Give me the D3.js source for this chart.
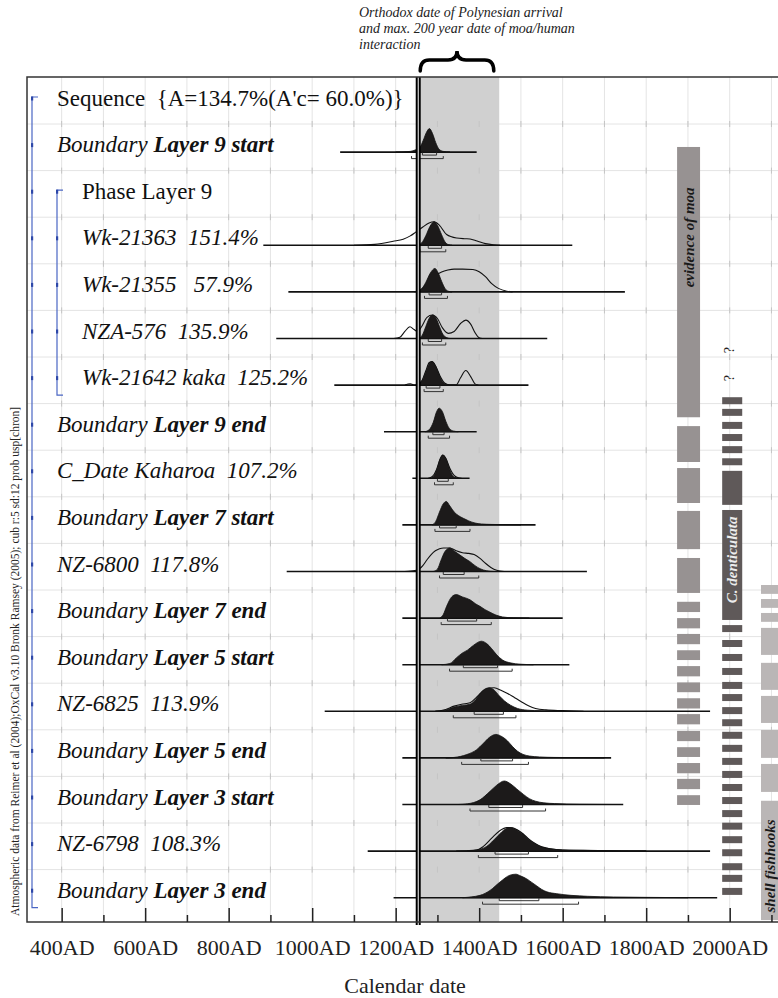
<!DOCTYPE html>
<html>
<head>
<meta charset="utf-8">
<script src="https://cdn.jsdelivr.net/npm/d3@7"></script>
<style>
  body { margin: 0; background: #fff; }
  svg { display: block; font-family: "Liberation Serif", "Times New Roman", serif; }
  text { white-space: pre; }
</style>
</head>
<body>
<svg id="chart" width="778" height="998"></svg>
<script>
// OxCal sequence plot - rows top to bottom

const rowTypes = ["Sequence", "Boundary", "Phase", "R_Date", "R_Date", "R_Date", "R_Date",
  "Boundary", "C_Date", "Boundary", "R_Date", "Boundary", "Boundary", "R_Date",
  "Boundary", "Boundary", "R_Date", "Boundary"];
const rowNames = ["", "Layer 9 start", "Layer 9", "Wk-21363", "Wk-21355", "NZA-576", "Wk-21642 kaka",
  "Layer 9 end", "Kaharoa", "Layer 7 start", "NZ-6800", "Layer 7 end", "Layer 5 start", "NZ-6825",
  "Layer 5 end", "Layer 3 start", "NZ-6798", "Layer 3 end"];
const rowInPhase = [0, 0, 1, 1, 1, 1, 1, 0, 0, 0, 0, 0, 0, 0, 0, 0, 0, 0];
const agreement = [134.7, null, null, 151.4, 57.9, 135.9, 125.2, null, 107.2, null, 117.8,
  null, null, 113.9, null, null, 108.3, null];
const overallAc = 60.0;

// full extent of each distribution (calendar years AD)
const lineRange = [null, [1067, 1394], null, [883, 1623], [943, 1749], [914, 1563], [1053, 1518],
  [1172, 1394], [1240, 1377], [1216, 1535], [939, 1658], [1216, 1600], [1216, 1616], [1030, 1953],
  [1216, 1716], [1216, 1745], [1133, 1953], [1195, 1970]];

// 68.2% and 95.4% ranges
const range68 = [null, [1264, 1298], null, [1278, 1310], [1280, 1310], [1278, 1310], [1273, 1306],
  [1289, 1316], [1300, 1326], [1305, 1345], [1314, 1364], [1324, 1394], [1362, 1444], [1388, 1458],
  [1404, 1480], [1423, 1504], [1438, 1518], [1448, 1543]];
const range95 = [null, [1238, 1314], null, [1258, 1320], [1269, 1324], [1264, 1320], [1268, 1314],
  [1278, 1329], [1293, 1338], [1294, 1378], [1305, 1399], [1309, 1429], [1329, 1479], [1338, 1488],
  [1358, 1518], [1378, 1559], [1398, 1588], [1408, 1638]];

// posterior (modelled) distributions: [year, relative probability]
const posterior = [
  null,
  [[1200,0],[1235,0.03],[1248,0.1],[1258,0.2],[1266,0.5],[1274,0.85],[1281,1],[1288,0.8],[1296,0.4],[1304,0.12],[1314,0.03],[1330,0]],
  null,
  [[1250,0],[1262,0.1],[1272,0.4],[1282,0.8],[1292,1],[1300,0.85],[1310,0.45],[1318,0.15],[1326,0.03],[1335,0]],
  [[1250,0],[1262,0.12],[1272,0.4],[1283,0.8],[1294,1],[1302,0.8],[1310,0.45],[1318,0.15],[1326,0.03],[1335,0]],
  [[1255,0],[1264,0.15],[1272,0.5],[1280,0.85],[1289,1],[1297,0.85],[1305,0.5],[1313,0.18],[1322,0.04],[1330,0]],
  [[1252,0],[1262,0.15],[1272,0.55],[1280,0.9],[1288,1],[1296,0.8],[1304,0.45],[1312,0.15],[1320,0.03],[1328,0]],
  [[1270,0],[1280,0.08],[1290,0.4],[1298,0.85],[1304,1],[1312,0.85],[1320,0.45],[1328,0.15],[1338,0.03],[1350,0]],
  [[1284,0],[1292,0.12],[1300,0.45],[1307,0.85],[1313,1],[1320,0.85],[1328,0.45],[1336,0.12],[1345,0.02],[1352,0]],
  [[1288,0],[1296,0.15],[1305,0.55],[1314,0.9],[1321,1],[1330,0.8],[1340,0.55],[1350,0.4],[1362,0.28],[1375,0.17],[1390,0.08],[1405,0.04],[1430,0.02],[1460,0.01],[1500,0]],
  [[1290,0],[1300,0.1],[1308,0.45],[1318,0.85],[1330,1],[1342,0.85],[1354,0.7],[1366,0.55],[1378,0.42],[1390,0.25],[1402,0.12],[1418,0.03],[1435,0]],
  [[1306,0],[1314,0.15],[1322,0.5],[1334,0.9],[1345,1],[1360,0.9],[1378,0.78],[1392,0.6],[1402,0.5],[1414,0.36],[1426,0.25],[1440,0.13],[1456,0.05],[1482,0.01],[1520,0]],
  [[1310,0],[1330,0.05],[1346,0.3],[1360,0.5],[1372,0.62],[1386,0.82],[1405,1],[1418,0.9],[1430,0.68],[1442,0.42],[1456,0.2],[1474,0.08],[1500,0.02],[1530,0]],
  [[1295,0],[1320,0.05],[1340,0.18],[1360,0.25],[1378,0.3],[1392,0.5],[1404,0.8],[1414,0.95],[1424,1],[1436,0.9],[1448,0.66],[1460,0.45],[1475,0.26],[1492,0.12],[1515,0.05],[1550,0.02],[1600,0]],
  [[1320,0],[1340,0.02],[1370,0.14],[1394,0.35],[1410,0.62],[1425,0.88],[1440,1],[1455,0.9],[1468,0.72],[1480,0.48],[1492,0.28],[1505,0.15],[1520,0.08],[1545,0.04],[1580,0.02],[1640,0.01],[1700,0]],
  [[1350,0],[1372,0.03],[1402,0.2],[1426,0.56],[1442,0.82],[1460,1],[1475,0.88],[1490,0.66],[1506,0.43],[1520,0.25],[1535,0.14],[1555,0.07],[1580,0.04],[1640,0.01],[1720,0]],
  [[1345,0],[1394,0.05],[1418,0.2],[1442,0.6],[1458,0.88],[1474,1],[1490,0.9],[1505,0.72],[1520,0.48],[1535,0.3],[1550,0.17],[1570,0.1],[1600,0.05],[1650,0.03],[1720,0.01],[1800,0]],
  [[1360,0],[1402,0.1],[1426,0.31],[1450,0.67],[1474,0.96],[1488,1],[1500,0.92],[1514,0.8],[1526,0.65],[1538,0.5],[1550,0.35],[1562,0.25],[1586,0.17],[1620,0.1],[1660,0.06],[1722,0.03],[1800,0.015],[1900,0]]
];

// unmodelled likelihoods (outlines)
const likelihood = [
  null, null, null,
  [[1100,0],[1150,0.04],[1194,0.17],[1218,0.26],[1235,0.4],[1248,0.56],[1265,0.78],[1280,0.95],[1292,1],[1305,0.85],[1322,0.46],[1346,0.31],[1365,0.28],[1378,0.27],[1395,0.18],[1415,0.07],[1434,0.02],[1450,0]],
  [[1245,0],[1262,0.12],[1280,0.45],[1295,0.7],[1310,0.85],[1325,0.93],[1340,0.97],[1360,0.97],[1385,0.95],[1400,0.86],[1415,0.65],[1430,0.35],[1446,0.15],[1466,0.03],[1480,0]],
  [[1195,0],[1210,0.05],[1222,0.3],[1234,0.5],[1244,0.38],[1252,0.3],[1262,0.5],[1275,0.9],[1288,1],[1300,0.85],[1312,0.45],[1326,0.22],[1340,0.3],[1356,0.65],[1368,0.78],[1380,0.6],[1390,0.25],[1400,0.03],[1408,0]],
  [[1222,0],[1235,0.06],[1246,0],[1262,0.17],[1272,0.6],[1280,0.95],[1287,1],[1296,0.8],[1306,0.4],[1318,0.08],[1330,0.01],[1345,0.01],[1355,0.3],[1368,0.62],[1380,0.35],[1390,0.05],[1398,0]],
  null,
  [[1278,0],[1288,0.08],[1298,0.38],[1306,0.8],[1313,0.98],[1320,0.85],[1330,0.42],[1340,0.12],[1350,0.02],[1358,0]],
  null,
  [[1210,0],[1230,0.01],[1250,0.05],[1265,0.25],[1275,0.5],[1285,0.72],[1295,0.88],[1305,0.97],[1315,1],[1330,1],[1345,0.88],[1360,0.8],[1375,0.77],[1388,0.72],[1402,0.56],[1415,0.35],[1428,0.17],[1442,0.05],[1460,0]],
  null, null,
  [[1295,0],[1320,0.08],[1340,0.22],[1358,0.3],[1378,0.36],[1395,0.62],[1412,0.9],[1425,0.99],[1436,1],[1452,0.9],[1468,0.76],[1485,0.58],[1500,0.42],[1518,0.24],[1535,0.12],[1560,0.06],[1600,0.03],[1650,0]],
  null, null,
  [[1370,0],[1398,0.07],[1410,0.2],[1430,0.55],[1450,0.88],[1466,1],[1480,0.99],[1490,0.92],[1505,0.74],[1520,0.5],[1535,0.31],[1550,0.18],[1570,0.1],[1600,0.05],[1650,0.03],[1720,0.01],[1800,0]],
  null
];

// orthodox arrival window
const arrivalWindow = [1253, 1448];
const arrivalLine = 1254;

// axis ticks
const majorTicks = [400, 600, 800, 1000, 1200, 1400, 1600, 1800, 2000];
const minorTicks = [500, 700, 900, 1100, 1300, 1500, 1700, 1900, 2100];

// evidence columns: [top, bottom] in row units
const moaYears = [1874, 1929];
const moaBlocks = [[0.89,6.69],[6.88,7.65],[7.78,8.53],[8.70,9.52],[9.71,10.46],[10.65,10.87],
  [11.00,11.22],[11.34,11.56],[11.69,11.90],[12.03,12.25],[12.38,12.59],[12.72,12.94],[13.06,13.28],
  [13.42,13.64],[13.77,13.98],[14.11,14.33],[14.45,14.67],[14.80,15.01]];
const dentYears = [1982, 2030];
const dentBlocks = [[6.26,6.41],[6.51,6.66],[6.79,6.94],[7.05,7.20],[7.31,7.46],[7.57,7.72],
  [7.84,8.57],[8.68,11.04],[11.15,11.30],[11.47,11.62],[11.77,11.92],[12.07,12.22],[12.37,12.52],
  [12.63,12.78],[12.91,13.06],[13.17,13.32],[13.44,13.59],[13.72,13.87],[14.00,14.15],[14.28,14.43],
  [14.56,14.71],[14.84,14.99],[15.12,15.27],[15.39,15.54],[15.68,15.83],[15.96,16.11],[16.26,16.41],
  [16.51,16.66],[16.79,16.94]];
const dentQuestions = [5.25, 5.85];
const shellYears = [2075, 2135];
const shellBlocks = [[10.29,10.48],[10.59,10.78],[10.89,11.08],[11.21,11.79],[11.96,12.54],
  [12.67,13.25],[13.40,14.00],[14.13,14.73],[14.92,17.48]];
const columnLabels = [
  {text: "evidence of moa", years: moaYears, row: 2.83},
  {text: "C. denticulata", years: dentYears, row: 9.75},
  {text: "shell fishhooks", years: shellYears, row: 16.32}
];

const plotTop = 77, plotBottom = 922;

const xScale = d3.scaleLinear().domain([317, 2120]).range([27, 779.8]);
const yScale = d3.scaleLinear().domain([0, 17]).range([105.5, 897.7]);
const hScale = d3.scaleLinear().domain([0, 1]).range([0, 23.5]);

const svg = d3.select("#chart");

// grid
const gridYears = majorTicks.concat(minorTicks).sort((a, b) => a - b);
const grid = svg.append("g").attr("class", "grid");
grid.selectAll("line.v").data(gridYears).enter().append("line")
  .attr("class", "v")
  .attr("x1", d => xScale(d)).attr("x2", d => xScale(d))
  .attr("y1", plotTop).attr("y2", plotBottom)
  .attr("stroke", "#e4e4e4").attr("stroke-width", 1);
grid.selectAll("line.h").data(d3.range(17)).enter().append("line")
  .attr("class", "h")
  .attr("x1", xScale.range()[0]).attr("x2", xScale.range()[1])
  .attr("y1", d => yScale(d + 0.397)).attr("y2", d => yScale(d + 0.397))
  .attr("stroke", "#e4e4e4").attr("stroke-width", 1);

// arrival window band
svg.append("rect")
  .attr("x", xScale(arrivalWindow[0]))
  .attr("width", xScale(arrivalWindow[1]) - xScale(arrivalWindow[0]))
  .attr("y", plotTop).attr("height", plotBottom - plotTop)
  .attr("fill", "#d0d0d0");

// small marks at grid intersections
const crosses = [];
gridYears.forEach(yr => d3.range(17).forEach(r => crosses.push([yr, r])));
svg.append("g").selectAll("line").data(crosses).enter().append("line")
  .attr("x1", d => xScale(d[0])).attr("x2", d => xScale(d[0]))
  .attr("y1", d => yScale(d[1] + 0.397) - 3).attr("y2", d => yScale(d[1] + 0.397) + 3)
  .attr("stroke", "#c4c4c4").attr("stroke-width", 1);

// evidence columns
function drawColumn(blocks, years, fill) {
  svg.append("g").selectAll("rect").data(blocks).enter().append("rect")
    .attr("x", xScale(years[0]))
    .attr("width", xScale(years[1]) - xScale(years[0]))
    .attr("y", d => yScale(d[0]))
    .attr("height", d => yScale(d[1]) - yScale(d[0]))
    .attr("fill", fill);
}
drawColumn(moaBlocks, moaYears, "#979292");
drawColumn(dentBlocks, dentYears, "#5f5959");
drawColumn(shellBlocks, shellYears, "#bab6b6");

const colText = ["#1a1a1a", "#ececec", "#1a1a1a"];
columnLabels.forEach((c, i) => {
  svg.append("text")
    .attr("transform", `translate(${(xScale(c.years[0]) + xScale(Math.min(c.years[1], 2115))) / 2},${yScale(c.row)}) rotate(-90)`)
    .attr("text-anchor", "middle").attr("dy", "0.35em")
    .attr("font-size", 15).attr("font-style", "italic").attr("font-weight", "bold")
    .attr("fill", colText[i])
    .text(c.text);
});
svg.append("g").selectAll("text").data(dentQuestions).enter().append("text")
  .attr("transform", d => `translate(${(xScale(dentYears[0]) + xScale(dentYears[1])) / 2 - 3},${yScale(d)}) rotate(-90)`)
  .attr("text-anchor", "middle").attr("dy", "0.35em")
  .attr("font-size", 14).attr("fill", "#222")
  .text("?");

// distributions
const dist = svg.append("g").attr("class", "dist");
rowTypes.forEach((type, i) => {
  if (!lineRange[i]) return;
  const base = yScale(i);
  const area = d3.area()
    .x(d => xScale(d[0]))
    .y0(base)
    .y1(d => base - hScale(d[1]))
    .curve(d3.curveMonotoneX);
  const line = d3.line()
    .x(d => xScale(d[0]))
    .y(d => base - hScale(d[1]))
    .curve(d3.curveMonotoneX);

  dist.append("line")
    .attr("x1", xScale(lineRange[i][0])).attr("x2", xScale(lineRange[i][1]))
    .attr("y1", base).attr("y2", base)
    .attr("stroke", "#111").attr("stroke-width", 1.6);

  if (likelihood[i]) {
    dist.append("path").attr("d", line(likelihood[i]))
      .attr("fill", "none").attr("stroke", "#111").attr("stroke-width", 1.1);
  }
  dist.append("path").attr("d", area(posterior[i]))
    .attr("fill", "#1c1a1a").attr("stroke", "#111").attr("stroke-width", 0.8);

  [[range68[i], 3], [range95[i], 6.5]].forEach(([r, dy]) => {
    dist.append("path")
      .attr("d", `M${xScale(r[0])},${base + dy - 2.5}V${base + dy}H${xScale(r[1])}V${base + dy - 2.5}`)
      .attr("fill", "none").attr("stroke", "#333").attr("stroke-width", 1);
  });
});

// orthodox arrival line (double)
svg.append("line")
  .attr("x1", xScale(arrivalLine)).attr("x2", xScale(arrivalLine))
  .attr("y1", plotTop).attr("y2", plotBottom + 3)
  .attr("stroke", "#000").attr("stroke-width", 5);
svg.append("line")
  .attr("x1", xScale(arrivalLine)).attr("x2", xScale(arrivalLine))
  .attr("y1", plotTop).attr("y2", plotBottom + 3)
  .attr("stroke", "#fff").attr("stroke-width", 1);

// frame
svg.append("path")
  .attr("d", `M${xScale.range()[1] + 10},${plotTop}H${xScale.range()[0]}V${plotBottom}H${xScale.range()[1] + 10}`)
  .attr("fill", "none").attr("stroke", "#333").attr("stroke-width", 1.5);

// axis
const axisMajor = d3.axisBottom(xScale).tickValues(majorTicks)
  .tickSizeInner(-14).tickSizeOuter(0).tickPadding(17.5)
  .tickFormat(d => d + "AD");
const gMajor = svg.append("g").attr("transform", `translate(0,${plotBottom})`).call(axisMajor);
gMajor.select(".domain").remove();
gMajor.selectAll("line").attr("stroke", "#222").attr("stroke-width", 1.5);
gMajor.selectAll("text")
  .attr("font-family", "'Liberation Serif', 'Times New Roman', serif")
  .attr("font-size", 22).attr("fill", "#222");
gMajor.attr("font-family", null).attr("font-size", null);

const axisMinor = d3.axisBottom(xScale).tickValues(minorTicks)
  .tickSizeInner(-7).tickSizeOuter(0).tickFormat("");
const gMinor = svg.append("g").attr("transform", `translate(0,${plotBottom})`).call(axisMinor);
gMinor.select(".domain").remove();
gMinor.selectAll("line").attr("stroke", "#222").attr("stroke-width", 1.5);

svg.append("text")
  .attr("x", 405).attr("y", 993)
  .attr("text-anchor", "middle")
  .attr("font-size", 22).attr("fill", "#222")
  .text("Calendar date");

// row labels
rowTypes.forEach((type, i) => {
  const t = svg.append("text")
    .attr("x", rowInPhase[i] ? 82 : 57)
    .attr("y", yScale(i))
    .attr("font-size", 23).attr("fill", "#111");
  if (type === "Sequence") {
    t.text(`Sequence  {A=${agreement[i].toFixed(1)}%(A'c= ${overallAc.toFixed(1)}%)}`);
  } else if (type === "Phase") {
    t.text("Phase " + rowNames[i]);
  } else if (type === "Boundary") {
    t.append("tspan").attr("font-style", "italic").text("Boundary ");
    t.append("tspan").attr("font-style", "italic").attr("font-weight", "bold").text(rowNames[i]);
  } else {
    const prefix = type === "C_Date" ? "C_Date " : "";
    t.attr("font-style", "italic")
      .text(prefix + rowNames[i] + "  " + agreement[i].toFixed(1).padStart(5, " ") + "%");
  }
});

// structure brackets
const bracketColor = "#4a66c4";
function bracket(x, r0, r1) {
  svg.append("path")
    .attr("d", `M${x + 6},${yScale(r0) - 8.5}H${x}V${yScale(r1) + 10}H${x + 6}`)
    .attr("fill", "none").attr("stroke", bracketColor).attr("stroke-width", 1.2);
  svg.append("g").selectAll("rect").data(d3.range(r0, r1 + 1)).enter().append("rect")
    .attr("x", x - 1).attr("width", 2.2)
    .attr("y", d => yScale(d) - 9).attr("height", 4)
    .attr("fill", "#2d47a8");
}
bracket(32, 0, 17);
bracket(57, 2, 6);

// side note
svg.append("text")
  .attr("transform", `translate(19,${plotBottom - 6}) rotate(-90)`)
  .attr("font-size", 11.5).attr("fill", "#222")
  .text("Atmospheric data from Reimer et al (2004);OxCal v3.10 Bronk Ramsey (2005); cub r:5 sd:12 prob usp[chron]");

// annotation above the arrival window
const noteLines = ["Orthodox date of Polynesian arrival", "and max. 200 year date of moa/human", "interaction"];
svg.append("g").selectAll("text").data(noteLines).enter().append("text")
  .attr("x", 359).attr("y", (d, i) => 17 + i * 16)
  .attr("font-size", 14).attr("font-style", "italic").attr("fill", "#222")
  .text(d => d);

// curly brace
const bx0 = xScale(arrivalLine) + 2, bx1 = xScale(1435), bm = (bx0 + bx1) / 2;
const yb = 71, ym = 60, yt = 51, r = 9;
svg.append("path")
  .attr("d", `M${bx0},${yb}Q${bx0},${ym} ${bx0 + r},${ym}L${bm - r},${ym}Q${bm},${ym} ${bm},${yt}` +
             `Q${bm},${ym} ${bm + r},${ym}L${bx1 - r},${ym}Q${bx1},${ym} ${bx1},${yb}`)
  .attr("fill", "none").attr("stroke", "#000").attr("stroke-width", 3.5).attr("stroke-linecap", "round");
</script>
</body>
</html>
